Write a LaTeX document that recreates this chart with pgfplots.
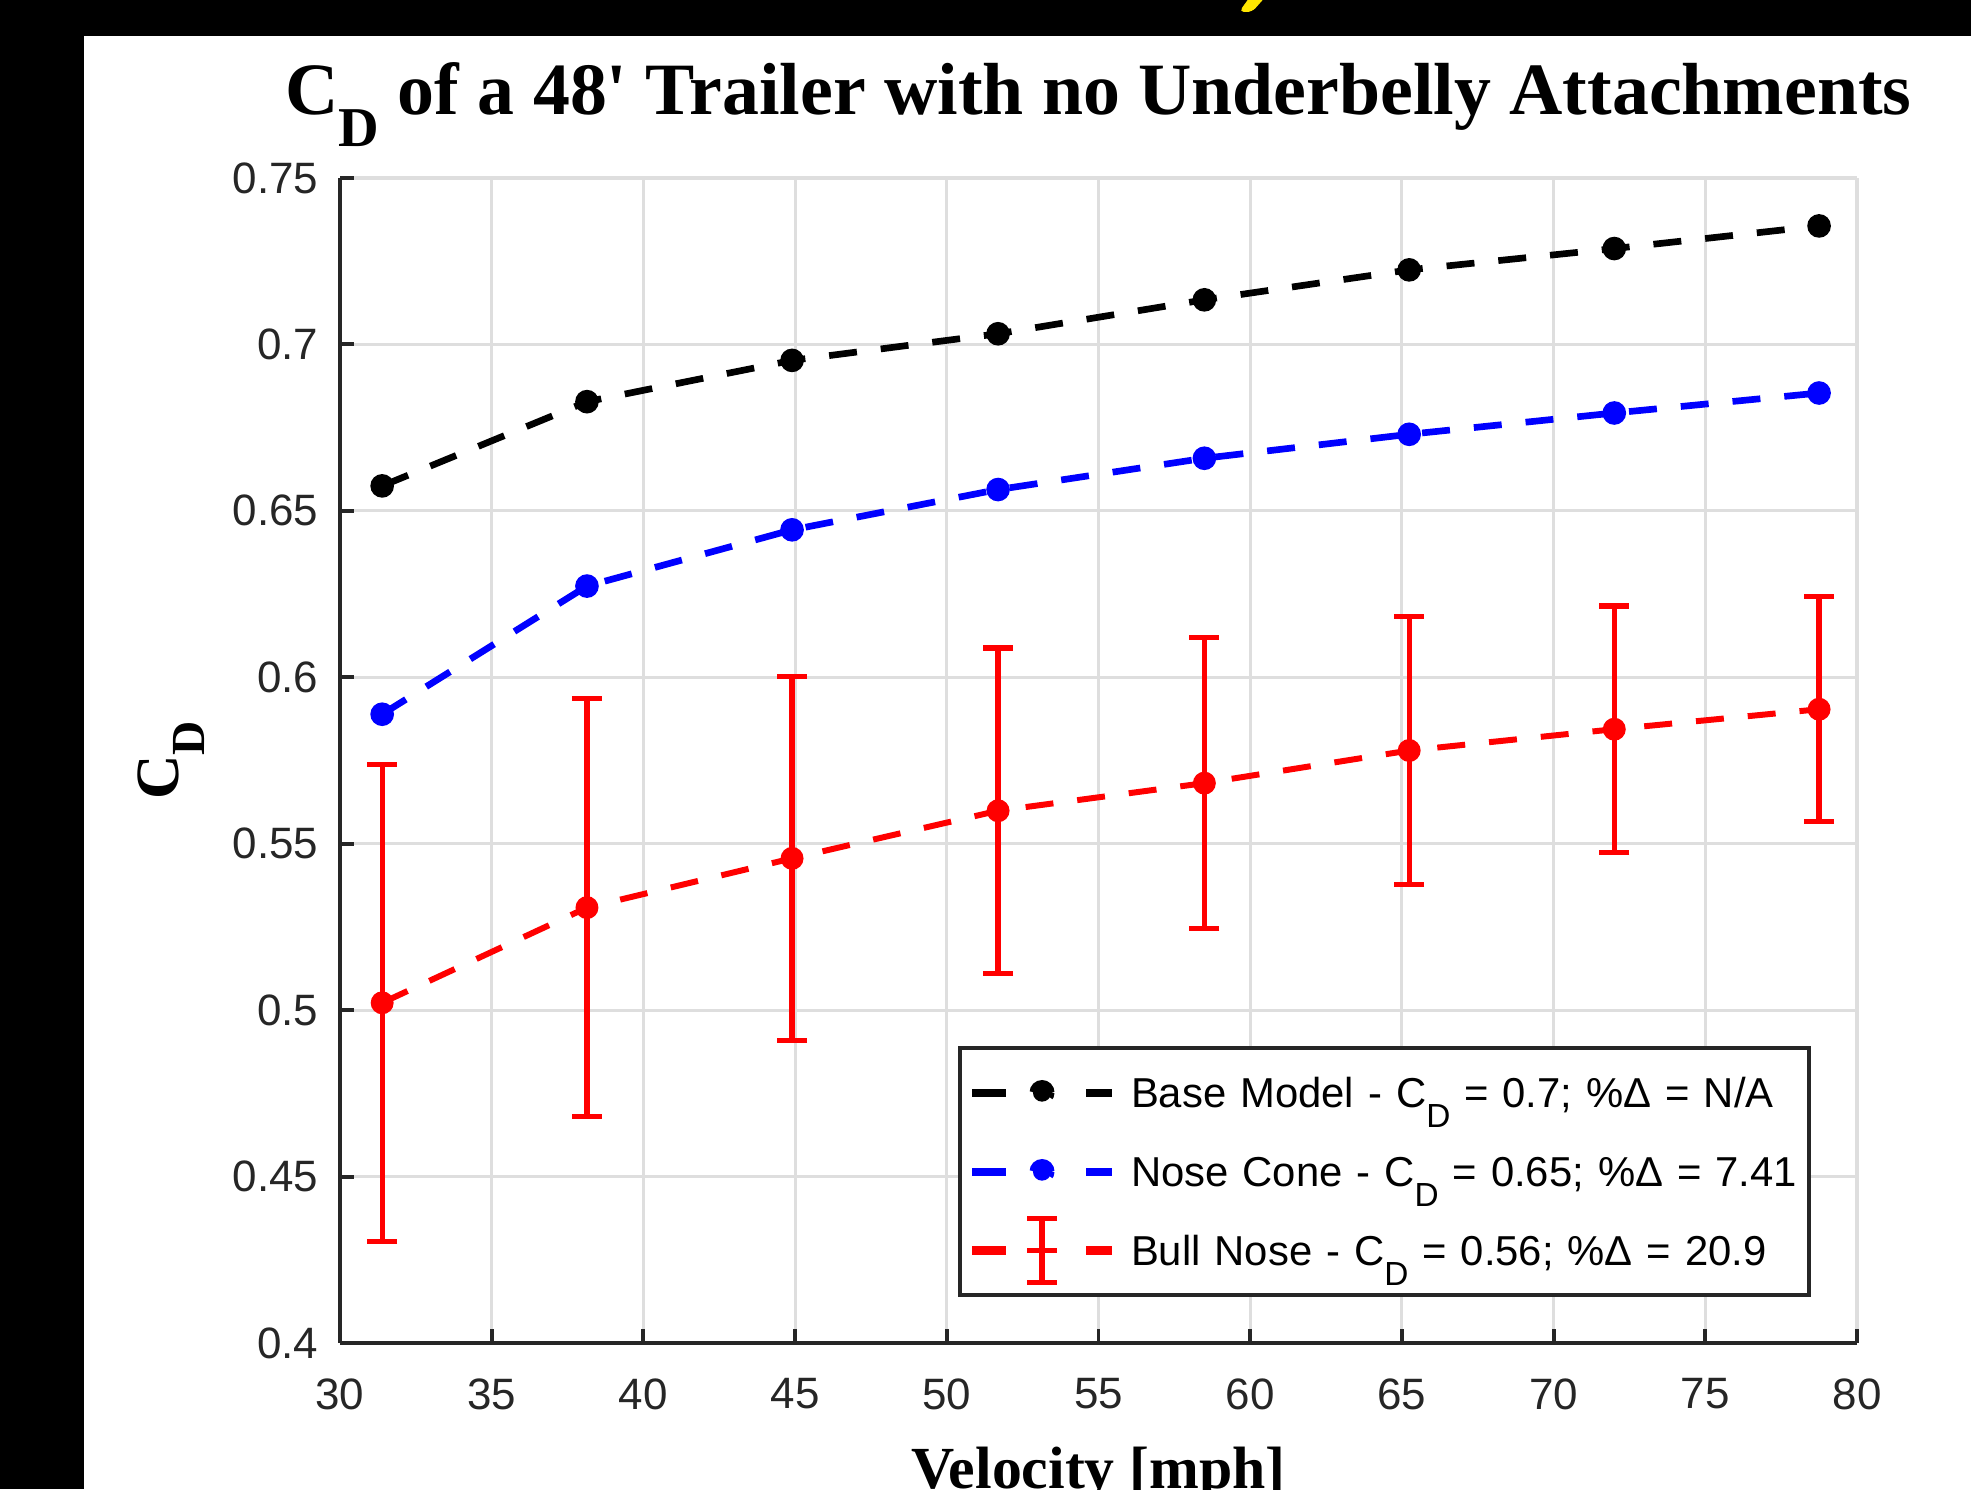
\documentclass[border=0pt]{standalone}
\usepackage{fontspec}
\setmainfont{Liberation Sans}
\newfontfamily\tnr{Liberation Serif}
\usepackage{pgfplots}
\pgfplotsset{compat=1.18}

\definecolor{gridgray}{RGB}{222,222,222}
\definecolor{axdark}{RGB}{38,38,38}
\definecolor{slideyellow}{RGB}{255,230,0}

% lowered, large subscript D as drawn by MATLAB
\newcommand{\subD}[2]{\raisebox{#1}{\fontsize{#2}{#2}\selectfont D}}

\pgfplotstableread{
x      y
31.39  0.6575
38.14  0.6828
44.90  0.6952
51.69  0.7032
58.49  0.7134
65.24  0.7224
72.00  0.7288
78.75  0.7356
}\basemodel

\pgfplotstableread{
x      y
31.39  0.5889
38.14  0.6274
44.90  0.6443
51.69  0.6564
58.49  0.6658
65.24  0.6730
72.00  0.6794
78.75  0.6854
}\nosecone

\pgfplotstableread{
x      y       e
31.39  0.5022  0.0716
38.14  0.5308  0.0628
44.90  0.5456  0.0547
51.69  0.5599  0.0489
58.49  0.5682  0.0437
65.24  0.5780  0.0402
72.00  0.5844  0.0370
78.75  0.5904  0.0338
}\bullnose

\begin{document}
\begin{tikzpicture}
\useasboundingbox (0,0) rectangle (19.71,14.89);
\clip (0,0) rectangle (19.71,14.89);
% slide background around the figure
\fill[black] (0,0) rectangle (19.71,14.89);
\fill[white] (0.84,0) rectangle (19.71,14.53);
\fill[slideyellow, rounded corners=0.5mm] (12.39,14.77) -- (12.52,14.77) -- (12.68,14.95) -- (12.52,14.95) -- cycle;

\begin{axis}[
  scale only axis,
  width=15.17cm, height=11.65cm,
  at={(3.40cm,1.46cm)}, anchor=south west,
  xmin=30, xmax=80, ymin=0.4, ymax=0.75,
  xtick={30,35,40,45,50,55,60,65,70,75,80},
  xticklabels={30,35,40,45,50,55,60,65,70,75,80},
  ytick={0.4,0.45,0.5,0.55,0.6,0.65,0.7,0.75},
  yticklabels={0.4,0.45,0.5,0.55,0.6,0.65,0.7,0.75},
  axis x line*=bottom, axis y line*=left,
  axis line style={axdark, line width=1.1pt},
  tick align=inside, major tick length=1.4mm,
  tick style={axdark, line width=1.1pt},
  grid=major, major grid style={gridgray, line width=0.9pt},
  ticklabel style={font=\fontsize{12.5}{14}\selectfont, text=axdark, inner sep=0pt},
  yticklabel style={anchor=east, xshift=-2.1mm},
  xticklabel style={anchor=north, yshift=-3.5mm},
  title={C\subD{-3.2mm}{16}\ of a 48\textquotesingle{} Trailer with no Underbelly Attachments},
  title style={at={(axis description cs:0.5,1.036)}, anchor=base, yshift=0pt,
    font=\tnr\bfseries\fontsize{21}{25}\selectfont},
  xlabel={Velocity [mph]},
  xlabel style={at={(axis description cs:0.5,-0.125)}, anchor=base, yshift=0pt,
    font=\tnr\bfseries\fontsize{17}{19}\selectfont},
  ylabel={C\subD{-2.6mm}{13.5}},
  ylabel style={at={(axis description cs:-0.111,0.5)}, anchor=center,
    font=\tnr\bfseries\fontsize{17.5}{19}\selectfont},
  legend cell align=left,
  legend style={at={(axis description cs:0.9697,0.0395)}, anchor=south east,
    draw=axdark, line width=1.1pt, inner xsep=0.08cm, inner ysep=0.05cm,
    font=\fontsize{11.9}{14}\selectfont, row sep=0pt, column sep=0.15cm,
    nodes={inner sep=0pt, text height=0.54cm, text depth=0.25cm},
    /tikz/every even column/.append style={text width=6.70cm}},
]

\addplot[black, line width=1.9pt, dash pattern=on 0.28cm off 0.24cm,
  mark=*, mark size=2.4pt, mark options={solid, fill=black},
  legend image code/.code={
    \draw[solid, black, line width=2.3pt] (0cm,0cm) -- (0.34cm,0cm) (1.14cm,0cm) -- (1.40cm,0cm);
    \fill[black] (0.70cm,0cm) circle (2.6pt);
  }] table[x=x, y=y] {\basemodel};
\addlegendentry{Base Model - C\subD{-2mm}{9.5} = 0.7; \%Δ = N/A}

\addplot[blue, line width=1.9pt, dash pattern=on 0.28cm off 0.24cm,
  mark=*, mark size=2.4pt, mark options={solid, fill=blue},
  legend image code/.code={
    \draw[solid, blue, line width=2.3pt] (0cm,0cm) -- (0.34cm,0cm) (1.14cm,0cm) -- (1.40cm,0cm);
    \fill[blue] (0.70cm,0cm) circle (2.6pt);
  }] table[x=x, y=y] {\nosecone};
\addlegendentry{Nose Cone - C\subD{-2mm}{9.5} = 0.65; \%Δ = 7.41}

\addplot[red, line width=1.7pt, dash pattern=on 0.28cm off 0.24cm,
  mark=*, mark size=2.4pt, mark options={solid, fill=red},
  error bars/.cd, y dir=both, y explicit,
  error mark=-,
  error bar style={solid, red, line width=1.5pt},
  error mark options={solid, red, line width=1.5pt, mark size=1.5mm, rotate=90},
  /pgfplots/legend image code/.code={
    \draw[solid, red, line width=2.3pt] (0cm,0cm) -- (0.34cm,0cm) (1.14cm,0cm) -- (1.40cm,0cm);
    \draw[solid, red, line width=1.5pt] (0.70cm,-0.32cm) -- (0.70cm,0.32cm)
      (0.55cm,-0.32cm) -- (0.85cm,-0.32cm) (0.55cm,0.32cm) -- (0.85cm,0.32cm)
      (0.55cm,0cm) -- (0.85cm,0cm);
  }] table[x=x, y=y, y error=e] {\bullnose};
\addlegendentry{Bull Nose - C\subD{-2mm}{9.5} = 0.56; \%Δ = 20.9}

\end{axis}
\end{tikzpicture}
\end{document}
